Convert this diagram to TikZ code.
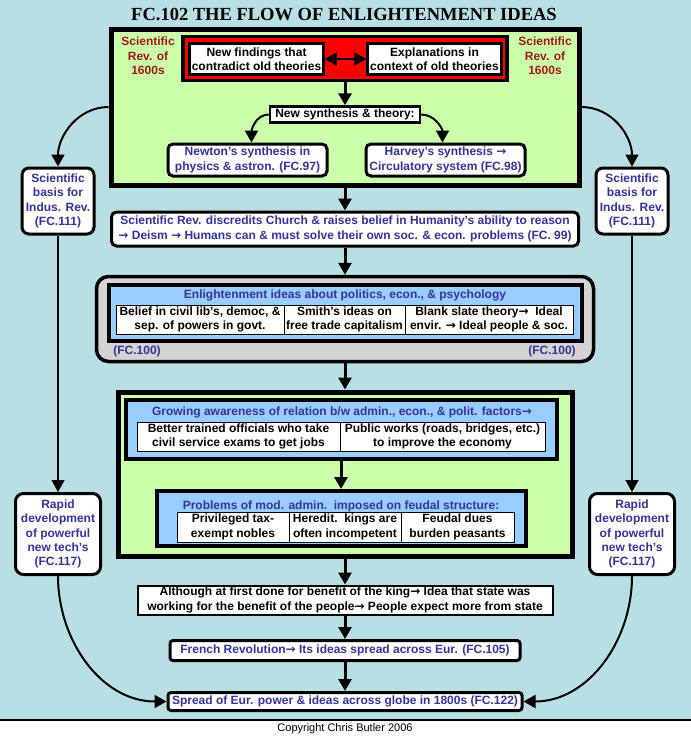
\documentclass[tikz,border=0pt]{standalone}
\usepackage{fontspec}
\setmainfont{Liberation Sans}
\newfontfamily\titlefont{Liberation Serif}
\newfontfamily\arrowfont{DejaVu Sans}
\newcommand{\toarrow}{{\arrowfont →}}
\usepackage{tikz}
\usetikzlibrary{arrows.meta}

\definecolor{bgblue}{RGB}{184,224,228}
\definecolor{leafgreen}{RGB}{204,255,170}
\definecolor{skyblue}{RGB}{153,204,255}
\definecolor{boxgray}{RGB}{212,212,212}
\definecolor{inkblue}{RGB}{51,51,153}
\definecolor{revred}{RGB}{160,24,24}

\tikzset{
  txt/.style={font=\fontsize{12}{14.4}\selectfont\bfseries, align=center, inner sep=0pt},
  bluetxt/.style={txt, text=inkblue},
  greenbox/.style={draw, line width=5pt, fill=leafgreen, inner sep=0pt},
  whitebox/.style={txt, draw, line width=2.5pt, fill=white},
  roundbox/.style={bluetxt, draw, line width=3pt, fill=white, rounded corners=5pt},
  ideabox/.style={draw, line width=4pt, fill=skyblue, inner sep=0pt},
  cell/.style={txt, draw, line width=1pt, fill=white},
  tip/.style={-{Triangle[length=12pt,width=13pt]}},
  flow/.style={tip, line width=3pt},
  curvearrow/.style={tip, line width=2pt},
  sideline/.style={tip, line width=1.5pt},
}

\begin{document}
\begin{tikzpicture}[x=1pt, y=1pt]
    \useasboundingbox (0,0) rectangle (691,-737);
    % Hintergrund
    \fill[bgblue] (0,0) rectangle (691,-720);
    \fill[white] (0,-720) rectangle (691,-737);
    \draw[line width=1.5pt] (0,-720) -- (691,-720);
    \node[font=\fontsize{11}{13}\selectfont] (copyright) at (345,-729) {Copyright Chris Butler 2006};

    % Titel
    \node[font=\titlefont\bfseries\fontsize{18.5}{20}\selectfont] (title) at (344,-14) {FC.102 THE FLOW OF ENLIGHTENMENT IDEAS};

    % Wissenschaftliche Revolution
    \node[greenbox, minimum width=468pt, minimum height=156pt] (sciencebox) at (345,-107) {};
    \node[txt, text=revred] (revleft) at (148,-56) {Scientific\\Rev. of\\1600s};
    \node[txt, text=revred] (revright) at (545,-56) {Scientific\\Rev. of\\1600s};
    \node[draw, line width=3.5pt, fill=red, minimum width=324pt, minimum height=44pt] (redbox) at (345,-58.5) {};
    \node[whitebox, minimum width=134pt, minimum height=31pt] (findings) at (256.5,-59) {New findings that\\contradict old theories};
    \node[whitebox, minimum width=134pt, minimum height=31pt] (explain) at (434.5,-59) {Explanations in\\context of old theories};
    \draw[{Triangle[length=12pt,width=13pt]}-{Triangle[length=12pt,width=13pt]}, line width=2.5pt] (findings) -- (explain);
    \node[whitebox, minimum width=150pt, minimum height=16pt] (synth) at (345,-114.5) {New synthesis \& theory:};
    \draw[flow] (redbox) -- (synth);
    \node[roundbox, minimum width=159pt, minimum height=32pt] (newton) at (247.5,-160) {Newton’s synthesis in\\physics \& astron. (FC.97)};
    \node[roundbox, minimum width=159pt, minimum height=32pt] (harvey) at (445.5,-160) {Harvey’s synthesis \toarrow\\Circulatory system (FC.98)};
    \draw[curvearrow] (synth.west) to[out=180, in=90] ([xshift=4pt]newton.north);
    \draw[curvearrow] (synth.east) to[out=0, in=90] ([xshift=-3pt]harvey.north);

    % Deismus
    \node[roundbox, minimum width=467pt, minimum height=34pt] (deism) at (345,-229) {Scientific Rev. discredits Church \& raises belief in Humanity’s ability to reason\\\toarrow{} Deism \toarrow{} Humans can \& must solve their own soc. \& econ. problems (FC. 99)};
    \draw[flow] (sciencebox) -- (deism);

    % Ideen der Aufklaerung
    \node[draw, line width=3.5pt, fill=boxgray, rounded corners=12pt, minimum width=497pt, minimum height=85pt] (graybox) at (345,-319) {};
    \node[ideabox, minimum width=473pt, minimum height=56pt] (ideas) at (345,-312.5) {};
    \node[bluetxt] (ideashead) at (345,-295) {Enlightenment ideas about politics, econ., \& psychology};
    \node[cell, minimum width=168pt, minimum height=29pt] (liberty) at (200,-319.5) {Belief in civil lib’s, democ, \&\\sep. of powers in govt.};
    \node[cell, minimum width=121pt, minimum height=29pt] (smith) at (344.5,-319.5) {Smith’s ideas on\\free trade capitalism};
    \node[cell, minimum width=168pt, minimum height=29pt] (slate) at (489,-319.5) {Blank slate theory\toarrow\ \ Ideal\\envir. \toarrow{} Ideal people \& soc.};
    \node[bluetxt] (fcleft) at (137,-351) {(FC.100)};
    \node[bluetxt] (fcright) at (552,-351) {(FC.100)};
    \draw[flow] (deism) -- (graybox);

    % Verwaltung
    \node[greenbox, minimum width=454pt, minimum height=164pt] (reformbox) at (345,-474) {};
    \draw[flow] (graybox) -- (reformbox);
    \node[ideabox, minimum width=431pt, minimum height=59pt] (awareness) at (341,-429) {};
    \node[bluetxt] (awarehead) at (342,-412) {Growing awareness of relation b/w admin., econ., \& polit. factors\toarrow};
    \node[cell, minimum width=203pt, minimum height=29pt] (officials) at (238.5,-436.5) {Better trained officials who take\\civil service exams to get jobs};
    \node[cell, minimum width=205pt, minimum height=29pt] (publicworks) at (442.5,-436.5) {Public works (roads, bridges, etc.)\\to improve the economy};
    \node[ideabox, minimum width=369pt, minimum height=55pt] (problems) at (341,-518.5) {};
    \node[bluetxt] (probhead) at (341,-506) {Problems of mod. admin.\ \ imposed on feudal structure:};
    \node[cell, minimum width=112pt, minimum height=30pt] (nobles) at (233,-527) {Privileged tax-\\exempt nobles};
    \node[cell, minimum width=112pt, minimum height=30pt] (kings) at (345,-527) {Heredit.\ \ kings are\\often incompetent};
    \node[cell, minimum width=113pt, minimum height=30pt] (dues) at (457.5,-527) {Feudal dues\\burden peasants};
    \draw[flow] (awareness) -- (problems);

    % Folgen
    \node[txt, draw, line width=2pt, fill=white, minimum width=415pt, minimum height=29pt] (statework) at (345,-600) {Although at first done for benefit of the king\toarrow{} Idea that state was\\working for the benefit of the people\toarrow{} People expect more from state};
    \node[roundbox, rounded corners=3pt, minimum width=350pt, minimum height=20pt] (frenchrev) at (345,-650.5) {French Revolution\toarrow{} Its ideas spread across Eur. (FC.105)};
    \node[roundbox, rounded corners=3pt, minimum width=354pt, minimum height=18pt] (spread) at (345,-701.5) {Spread of Eur. power \& ideas across globe in 1800s (FC.122)};
    \draw[flow] (reformbox) -- (statework);
    \draw[flow] (statework) -- (frenchrev);
    \draw[flow] (frenchrev) -- (spread);

    % Seitenspalten
    \node[roundbox, rounded corners=7pt, minimum width=72pt, minimum height=66pt] (basisleft) at (58,-201) {Scientific\\basis for\\Indus. Rev.\\(FC.111)};
    \node[roundbox, rounded corners=7pt, minimum width=72pt, minimum height=66pt] (basisright) at (632,-201) {Scientific\\basis for\\Indus. Rev.\\(FC.111)};
    \node[roundbox, rounded corners=8pt, minimum width=85pt, minimum height=81pt] (rapidleft) at (58,-534) {Rapid\\development\\of powerful\\new tech’s\\(FC.117)};
    \node[roundbox, rounded corners=8pt, minimum width=85pt, minimum height=81pt] (rapidright) at (632,-534) {Rapid\\development\\of powerful\\new tech’s\\(FC.117)};
    \draw[curvearrow] (sciencebox.west) to[out=180, in=90] (basisleft.north);
    \draw[curvearrow] (sciencebox.east) to[out=0, in=90] (basisright.north);
    \draw[sideline] (basisleft) -- (rapidleft);
    \draw[sideline] (basisright) -- (rapidright);
    \draw[curvearrow] (rapidleft.south) to[out=-90, in=180] (spread.west);
    \draw[curvearrow] (rapidright.south) to[out=-90, in=0] (spread.east);
\end{tikzpicture}
\end{document}
